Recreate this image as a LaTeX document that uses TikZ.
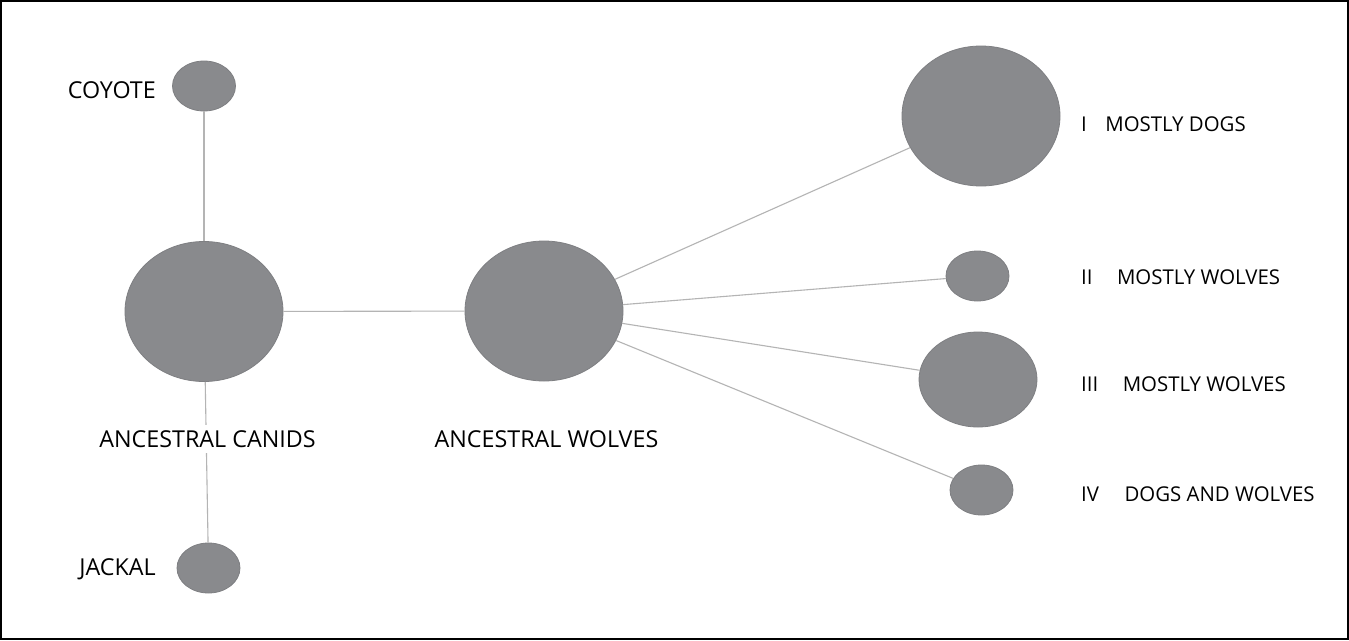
\documentclass[tikz,border=0pt]{standalone}
\usepackage{fontspec}
\setmainfont{Open Sans}
\usetikzlibrary{shapes.geometric}
\definecolor{blobfill}{HTML}{898A8D}
\definecolor{blobedge}{HTML}{7E7F82}
\definecolor{linkgray}{HTML}{B4B4B4}
\tikzset{
  blob/.style={ellipse, fill=blobfill, draw=blobedge, line width=0.8pt, inner sep=0pt},
  link/.style={draw=linkgray, line width=1.1pt},
  lbl/.style={font=\fontsize{23.3}{27}\selectfont, text=black, inner sep=1pt},
  lblbg/.style={lbl, fill=white, inner sep=5pt},
  grplbl/.style={font=\fontsize{20.4}{24}\selectfont, text=black, inner sep=1pt, anchor=west}
}
\begin{document}
\begin{tikzpicture}[x=1pt, y=-1pt]
\useasboundingbox (0,0) rectangle (1349,640);
\fill[white] (0,0) rectangle (1349,640);
\draw[black, line width=2pt] (1,1) rectangle (1348,639);

% nodes
\node[blob, minimum width=63pt, minimum height=50pt] (coyote) at (204,86) {};
\node[blob, minimum width=158pt, minimum height=140pt] (canids) at (204,311.5) {};
\node[blob, minimum width=63pt, minimum height=50pt] (jackal) at (208.5,568) {};
\node[blob, minimum width=158pt, minimum height=140pt] (wolves) at (544,311) {};
\node[blob, minimum width=158pt, minimum height=140pt] (g1) at (981,116) {};
\node[blob, minimum width=63pt, minimum height=50pt] (g2) at (977.5,276) {};
\node[blob, minimum width=118pt, minimum height=95pt] (g3) at (978,379.5) {};
\node[blob, minimum width=63pt, minimum height=50pt] (g4) at (981.5,490) {};

% connectors
\path[link] (coyote) -- (canids);
\path[link] (canids) -- (jackal);
\path[link] (canids) -- (wolves);
\path[link] (wolves) -- (g1);
\path[link] (wolves) -- (g2);
\path[link] (wolves) -- (g3);
\path[link] (wolves) -- (g4);

% labels
\node[lbl, anchor=east] (tcoyote) at (157,90) {COYOTE};
\node[lblbg] (tcanids) at (207.5,439) {ANCESTRAL CANIDS};
\node[lbl, anchor=east] (tjackal) at (157,569) {JACKAL};
\node[lbl] (twolves) at (546.5,439) {ANCESTRAL WOLVES};
\node[grplbl] (t1) at (1080,124.5) {I\hspace{18.5pt}MOSTLY DOGS};
\node[grplbl] (t2) at (1080,277.5) {II\hspace{24.5pt}MOSTLY WOLVES};
\node[grplbl] (t3) at (1080,384.5) {III\hspace{24.5pt}MOSTLY WOLVES};
\node[grplbl] (t4) at (1080,494.5) {IV\hspace{25.5pt}DOGS AND WOLVES};
\end{tikzpicture}
\end{document}
